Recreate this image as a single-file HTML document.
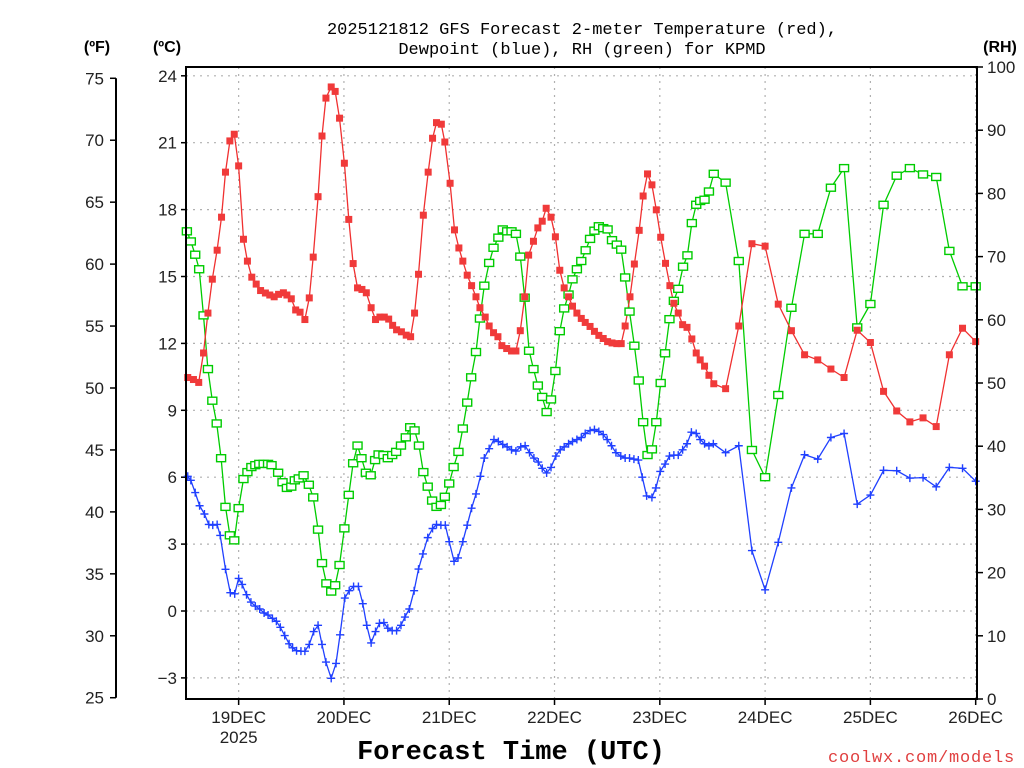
<!DOCTYPE html>
<html><head><meta charset="utf-8"><style>
html,body{margin:0;padding:0;background:#fff;}
svg{display:block;font-family:"Liberation Sans",sans-serif;}
.mono{font-family:"Liberation Mono",monospace;}
</style></head><body>
<svg id="chart" width="1024" height="768" viewBox="0 0 1024 768" xmlns="http://www.w3.org/2000/svg">
<text class="mono" x="582" y="34" font-size="17" text-anchor="middle" fill="#000">2025121812 GFS Forecast 2-meter Temperature (red),</text>
<text class="mono" x="582" y="54" font-size="17" text-anchor="middle" fill="#000">Dewpoint (blue), RH (green) for KPMD</text>
<text x="97" y="52" font-size="16" font-weight="bold" text-anchor="middle">(ºF)</text>
<text x="167" y="52" font-size="16" font-weight="bold" text-anchor="middle">(ºC)</text>
<text x="1000" y="52" font-size="16" font-weight="bold" text-anchor="middle">(RH)</text>
<text class="mono" x="511" y="759" font-size="27" font-weight="bold" text-anchor="middle">Forecast Time (UTC)</text>
<text class="mono" x="1015" y="762" font-size="17" text-anchor="end" fill="#e04040" letter-spacing="0.8">coolwx.com/models</text>
<g id="grid"></g><g id="axes"></g><g id="series"></g>
<rect x="186" y="67" width="791" height="632" fill="none" stroke="#000" stroke-width="2"/>
</svg>
<script>
const tempHours=[0.4,1.7,2.9,4.0,5.0,6.0,7.1,8.1,9.0,10.0,11.0,12.0,13.1,14.0,15.0,16.0,17.0,18.1,19.1,20.1,21.1,22.2,23.0,24.0,25.0,26.0,27.1,28.1,29.0,30.1,31.0,31.9,33.1,34.0,35.0,36.1,37.1,38.1,39.1,40.1,41.1,42.2,43.2,44.2,45.2,46.2,47.1,48.0,49.1,50.2,51.2,52.1,53.0,54.1,55.2,56.2,57.1,58.2,59.0,60.2,61.2,62.2,63.1,64.1,65.1,66.1,67.0,68.2,69.1,70.1,71.1,72.0,73.1,74.2,75.2,76.2,77.2,78.1,79.2,80.2,81.2,82.1,83.2,84.2,85.2,86.2,87.2,88.1,89.1,90.1,91.0,92.1,93.1,94.1,95.1,96.1,97.1,98.2,99.2,100.1,101.2,102.2,103.3,104.2,105.2,106.2,107.2,108.2,109.3,110.3,111.2,112.2,113.2,114.2,115.3,116.3,117.2,118.2,119.2,120.3,123,126,129,132,135,138,141,144,147,150,153,156,159,162,165,168,171,174,177,180];
const tempC=[10.47,10.38,10.25,11.57,13.36,14.88,16.18,17.66,19.68,21.08,21.38,19.96,16.67,15.69,14.97,14.66,14.37,14.26,14.17,14.09,14.20,14.27,14.17,14.0,13.5,13.4,13.07,14.04,15.87,18.58,21.3,23.0,23.5,23.3,22.1,20.08,17.56,15.58,14.49,14.42,14.27,13.6,13.07,13.18,13.18,13.09,12.81,12.61,12.52,12.37,12.30,13.36,15.1,17.75,19.68,21.2,21.9,21.83,21.03,19.18,17.09,16.28,15.69,15.06,14.59,14.09,13.6,13.18,12.78,12.48,12.30,11.9,11.77,11.66,11.66,12.57,14.09,15.96,16.58,17.18,17.48,18.06,17.66,16.78,15.28,14.49,14.09,13.67,13.36,13.12,12.94,12.76,12.54,12.36,12.22,12.08,12.02,11.99,11.99,12.78,14.09,15.56,17.07,18.61,19.6,19.11,17.99,16.76,15.59,14.59,13.8,13.36,12.84,12.72,12.2,11.57,11.26,10.98,10.57,10.19,9.97,12.78,16.47,16.36,13.76,12.57,11.49,11.26,10.85,10.47,12.59,12.04,9.85,8.97,8.48,8.66,8.27,11.49,12.68,12.08];
const dewHours=[0.4,1.1,2.1,3.1,4.2,5.2,6.1,7.1,7.8,9.0,10.1,11.1,12.0,12.8,13.8,14.8,15.8,16.8,17.8,18.7,19.7,20.6,21.5,22.5,23.5,24.3,25.2,26.2,27.1,28.1,29.1,30.1,31.0,31.9,33.1,34.2,35.1,36.2,37.2,38.2,39.3,40.3,41.2,42.2,43.2,44.1,45.1,46.0,47.0,48.0,49.0,49.9,50.9,52.0,53.0,54.0,55.1,56.2,57.1,58.1,59.1,60.0,61.1,62.0,63.1,64.1,65.1,66.1,67.1,68.0,69.1,70.2,71.2,72.2,73.2,74.2,75.2,76.3,77.3,78.3,79.3,80.3,81.2,82.2,83.2,84.3,85.3,86.2,87.2,88.1,89.1,90.1,91.0,92.1,93.1,94.1,95.1,96.0,97.0,98.0,99.1,100.1,101.1,102.1,103.1,104.0,105.0,106.2,107.1,108.1,109.2,110.2,111.2,112.2,113.2,114.2,115.2,116.3,117.2,118.2,119.2,120.2,123,126,129,132,135,138,141,144,147,150,153,156,159,162,165,168,171,174,177,180];
const dewC=[6.04,5.86,5.31,4.72,4.35,3.88,3.85,3.88,3.39,1.87,0.82,0.77,1.46,1.19,0.73,0.4,0.22,0.09,-0.09,-0.18,-0.33,-0.46,-0.73,-1.1,-1.47,-1.65,-1.78,-1.8,-1.8,-1.5,-0.92,-0.64,-1.5,-2.29,-3.02,-2.35,-1.07,0.58,0.91,1.1,1.1,0.33,-0.64,-1.43,-0.92,-0.55,-0.52,-0.77,-0.88,-0.88,-0.64,-0.27,0.09,0.91,1.88,2.56,3.29,3.70,3.88,3.85,3.85,3.11,2.23,2.38,3.11,3.85,4.61,5.25,6.04,6.86,7.28,7.69,7.60,7.47,7.36,7.23,7.17,7.36,7.41,7.10,6.86,6.68,6.40,6.19,6.44,6.95,7.23,7.36,7.50,7.60,7.69,7.78,7.96,8.09,8.14,8.05,7.91,7.69,7.41,7.10,6.95,6.86,6.86,6.81,6.77,6.00,5.16,5.09,5.52,6.26,6.59,6.95,6.99,6.99,7.23,7.50,8.02,7.96,7.69,7.50,7.41,7.50,7.10,7.41,2.71,0.95,3.08,5.52,7.01,6.81,7.78,7.96,4.79,5.20,6.31,6.29,5.96,5.98,5.57,6.44,6.40,5.82];
const rhHours=[0.2,1.1,2.1,3.0,4.0,5.0,6.0,7.0,8.0,9.0,10.0,11.0,12.0,13.1,14.0,14.9,15.8,16.7,17.7,18.7,19.5,21.0,22.0,23.0,24.0,24.8,25.7,26.8,28.0,29.0,30.1,31.0,32.0,33.1,34.0,35.0,36.1,37.1,38.1,39.1,40.0,41.0,42.1,43.1,43.9,45.0,46.0,47.0,47.9,49.0,50.1,51.1,52.1,53.1,54.1,55.1,56.1,57.1,58.1,59.0,60.0,61.0,62.1,63.1,64.1,65.0,66.1,67.0,68.0,69.1,70.1,71.2,72.2,73.2,74.2,75.2,76.2,77.2,78.2,79.2,80.2,81.2,82.2,83.2,84.2,85.2,86.2,87.2,88.1,89.1,90.1,91.1,92.1,93.1,94.1,95.1,96.1,97.1,98.2,99.2,100.1,101.1,102.2,103.2,104.2,105.2,106.2,107.2,108.2,109.2,110.2,111.2,112.2,113.3,114.3,115.3,116.3,117.2,118.2,119.2,120.3,123,126,129,132,135,138,141,144,147,150,153,156,159,162,165,168,171,174,177,180];
const rhPct=[74.0,72.4,70.3,68.0,60.7,52.2,47.2,43.6,38.1,30.4,25.9,25.1,30.2,34.8,35.9,36.7,37.0,37.2,37.2,37.2,37.0,35.8,34.3,33.4,33.6,34.6,34.9,35.4,33.9,31.9,26.8,21.5,18.3,17.0,18.0,21.2,27.0,32.3,37.3,40.1,38.1,35.8,35.4,37.8,38.7,38.6,38.1,38.6,39.1,40.1,41.4,43.0,42.5,40.1,35.9,33.6,31.4,30.4,30.7,32.0,34.1,36.7,39.1,42.8,46.9,50.9,54.9,60.2,65.4,69.0,71.4,73.0,74.3,74.0,74.0,73.6,70.0,63.5,55.1,52.2,49.6,47.8,45.4,47.4,51.9,58.2,61.8,64.0,66.4,68.0,69.3,71.0,72.8,74.1,74.8,74.5,74.3,72.6,71.9,71.1,66.7,61.3,55.9,50.4,43.8,38.6,39.5,43.8,50.0,54.7,60.1,63.0,64.9,68.4,70.2,75.3,78.2,78.8,79.0,80.3,83.1,81.7,69.3,39.4,35.1,48.1,61.9,73.6,73.6,80.9,84.0,58.8,62.5,78.2,82.8,84.0,83.0,82.6,70.9,65.3,65.3];
const celsiusTicks=[-3,0,3,6,9,12,15,18,21,24];
const fahrenheitTicks=[25,30,35,40,45,50,55,60,65,70,75];
const rhTicks=[0,10,20,30,40,50,60,70,80,90,100];
const dayLabels=["19DEC","20DEC","21DEC","22DEC","23DEC","24DEC","25DEC","26DEC"];
const dayHours=[12,36,60,84,108,132,156,180];

const NS="http://www.w3.org/2000/svg";
const X0=186,X1=977,Y0=67,Y1=699;
function xs(h){return X0+h*(X1-X0)/180.3;}
function yc(c){return 611-c*22.3;}
function yf(f){return yc((f-32)*5/9);}
function yr(r){return Y1-r*(Y1-Y0)/100;}
function mk(tag,attrs,parent){const e=document.createElementNS(NS,tag);for(const k in attrs)e.setAttribute(k,attrs[k]);parent.appendChild(e);return e;}
const grid=document.getElementById('grid'),axes=document.getElementById('axes'),ser=document.getElementById('series');

celsiusTicks.forEach(c=>{
 const y=yc(c);
 const g=mk('line',{x1:X0,x2:X1,y1:y,y2:y,stroke:'#b0b0b0','stroke-width':1.2,'stroke-dasharray':'2,5'},grid);
 
 
 const t=mk('line',{x1:X0-5,x2:X0,y1:y,y2:y,stroke:'#000','stroke-width':1.5},axes);
 
 
 const l=mk('text',{x:X0-9,y:y+6,'font-size':17,'text-anchor':'end',fill:'#222'},axes);
 l.textContent=c<0?'\u2212'+Math.abs(c):String(c);
 
 
});
const fl=mk('line',{x1:116,x2:116,y1:yf(75),y2:yf(25),stroke:'#000','stroke-width':2},axes);


fahrenheitTicks.forEach(f=>{
 const y=yf(f);
 const t=mk('line',{x1:110,x2:116,y1:y,y2:y,stroke:'#000','stroke-width':1.5},axes);
 
 
 const l=mk('text',{x:104,y:y+6,'font-size':17,'text-anchor':'end',fill:'#222'},axes);
 l.textContent=String(f);
 
 
});
rhTicks.forEach(r=>{
 const y=yr(r);
 const t=mk('line',{x1:X1,x2:X1+6,y1:y,y2:y,stroke:'#000','stroke-width':1.5},axes);
 
 
 const l=mk('text',{x:987,y:y+6,'font-size':17,'text-anchor':'start',fill:'#222'},axes);
 l.textContent=String(r);
 
 
});
dayHours.forEach((h,i)=>{
 const x=xs(h);
 const g=mk('line',{x1:x,x2:x,y1:Y0,y2:Y1,stroke:'#b0b0b0','stroke-width':1.2,'stroke-dasharray':'2,5'},grid);
 
 
 const t=mk('line',{x1:x,x2:x,y1:Y1,y2:Y1+6,stroke:'#000','stroke-width':1.5},axes);
 
 
 const l=mk('text',{x:x,y:723,'font-size':17,'text-anchor':'middle',fill:'#222'},axes);
 l.textContent=dayLabels[i];
 
 
});
const yl=mk('text',{x:xs(12),y:743,'font-size':17,'text-anchor':'middle',fill:'#222'},axes);
yl.textContent='2025';



function drawLine(hours,vals,yfn,color,name){
 const pts=hours.map((h,i)=>xs(h).toFixed(1)+','+yfn(vals[i]).toFixed(1)).join(' ');
 const p=mk('polyline',{points:pts,fill:'none',stroke:color,'stroke-width':1.3},ser);
 
 
}
drawLine(rhHours,rhPct,yr,'#00cc00','rh');
drawLine(dewHours,dewC,yc,'#2040ff','dewpoint');
drawLine(tempHours,tempC,yc,'#f03030','temperature');
rhHours.forEach((h,i)=>{
 const r=mk('rect',{x:xs(h)-4.5,y:yr(rhPct[i])-3.5,width:9,height:7,fill:'#fff',stroke:'#00cc00','stroke-width':1.4},ser);
 
 
});
dewHours.forEach((h,i)=>{
 const x=xs(h),y=yc(dewC[i]);
 const p=mk('path',{d:`M${x-4},${y}H${x+4}M${x},${y-4}V${y+4}`,stroke:'#2040ff','stroke-width':1.4,fill:'none'},ser);
 
 
});
tempHours.forEach((h,i)=>{
 const r=mk('rect',{x:xs(h)-3.5,y:yc(tempC[i])-3.5,width:7,height:7,fill:'#f03a3a'},ser);
 
 
});
</script>
</body></html>
